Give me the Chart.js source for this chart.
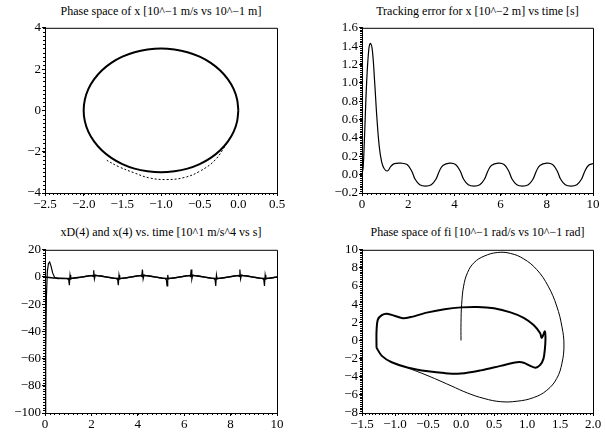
<!DOCTYPE html>
<html>
<head>
<meta charset="utf-8">
<script src="https://cdn.jsdelivr.net/npm/chart.js@4.4.1/dist/chart.umd.min.js"></script>
<style>
  body { margin: 0; background: #fff; }
  #page { position: relative; width: 605px; height: 432px; overflow: hidden; }
  canvas { position: absolute; }
  .title { position: absolute; font: 12px "Liberation Serif", "Times New Roman", serif; line-height: 14px;
           text-align: center; white-space: nowrap; color: #000; }
</style>
</head>
<body>
<div id="page">
  <div class="title" style="left:45px;top:4px;width:232px">Phase space of x [10^−1 m/s vs 10^−1 m]</div>
  <div class="title" style="left:362px;top:4px;width:231px">Tracking error for x [10^−2 m] vs time [s]</div>
  <div class="title" style="left:45px;top:225px;width:232px">xD(4) and x(4) vs. time [10^1 m/s^4 vs s]</div>
  <div class="title" style="left:362px;top:225px;width:231px">Phase space of fi [10^−1 rad/s vs 10^−1 rad]</div>
  <canvas id="c1" width="289" height="193" style="left:0;top:19px"></canvas>
  <canvas id="c2" width="305" height="193" style="left:300px;top:19px"></canvas>
  <canvas id="c3" width="289" height="191" style="left:0;top:241px"></canvas>
  <canvas id="c4" width="305" height="191" style="left:300px;top:241px"></canvas>
</div>
<script>
// phase space of x: limit cycle (position, velocity)
const xCyclePos = [0, -0.015, -0.06, -0.134, -0.234, -0.357, -0.5, -0.658, -0.826, -1, -1.174, -1.342, -1.5, -1.643, -1.766, -1.866, -1.94, -1.985, -2,
  -1.985, -1.94, -1.866, -1.766, -1.643, -1.5, -1.342, -1.174, -1, -0.826, -0.658, -0.5, -0.357, -0.234, -0.134, -0.06, -0.015, 0];
const xCycleVel = [0, 0.52, 1.03, 1.5, 1.93, 2.3, 2.6, 2.82, 2.95, 3, 2.95, 2.82, 2.6, 2.3, 1.93, 1.5, 1.03, 0.52, 0,
  -0.52, -1.03, -1.5, -1.93, -2.3, -2.6, -2.82, -2.95, -3, -2.95, -2.82, -2.6, -2.3, -1.93, -1.5, -1.03, -0.52, 0];
// initial transient (dashed)
const xStartPos = [-0.15, -0.3, -0.5, -0.7, -0.93, -1.15, -1.35, -1.55, -1.7];
const xStartVel = [-1.6, -2.4, -2.95, -3.25, -3.35, -3.27, -3.02, -2.72, -2.42];

// tracking error for x
const errTime = [0, 0.05, 0.1, 0.2, 0.3, 0.37, 0.45, 0.55, 0.65, 0.75, 0.85, 0.95, 1.1, 1.25, 1.4, 1.7, 1.95, 2.15, 2.3, 2.5, 2.75,
  3.0, 3.2, 3.35, 3.5, 3.8, 4.05, 4.25, 4.4, 4.6, 4.85, 5.1, 5.3, 5.45, 5.6, 5.9, 6.15, 6.35, 6.5, 6.7, 6.95,
  7.2, 7.4, 7.55, 7.7, 8.0, 8.25, 8.45, 8.6, 8.8, 9.05, 9.3, 9.5, 9.65, 9.8, 10];
const errValue = [0, 0.08, 0.35, 1.0, 1.38, 1.43, 1.35, 1.0, 0.6, 0.3, 0.14, 0.07, 0.04, 0.09, 0.12, 0.125, 0.11, 0.04, -0.05, -0.11, -0.125,
  -0.11, -0.05, 0.04, 0.10, 0.125, 0.11, 0.04, -0.05, -0.11, -0.125, -0.11, -0.05, 0.04, 0.10, 0.125, 0.11, 0.04, -0.05, -0.11, -0.125,
  -0.11, -0.05, 0.04, 0.10, 0.125, 0.11, 0.04, -0.05, -0.11, -0.125, -0.11, -0.05, 0.04, 0.10, 0.12];

// 4th derivative: desired (smooth) and actual (with switching spikes)
const xD4Time = [0, 0.5, 1.05, 1.6, 2.1, 2.65, 3.16, 3.71, 4.2, 4.75, 5.26, 5.81, 6.3, 6.85, 7.36, 7.91, 8.4, 8.95, 9.46, 10];
const xD4Value = [0, -0.8, -1.1, 0, 1.1, 0, -1.1, 0, 1.1, 0, -1.1, 0, 1.1, 0, -1.1, 0, 1.1, 0, -1.1, 0];
const x4Time = [0, 0.03, 0.06, 0.1, 0.15, 0.2, 0.26, 0.33, 0.42, 0.55, 0.75, 0.95,
  1.02, 1.05, 1.08, 1.11, 1.17, 1.3, 1.45, 1.6, 1.75, 1.9, 2.02,
  2.07, 2.1, 2.13, 2.17, 2.25, 2.4, 2.52, 2.65, 2.8, 2.95, 3.08,
  3.13, 3.16, 3.19, 3.22, 3.28, 3.41, 3.56, 3.71, 3.86, 4.01, 4.12,
  4.17, 4.2, 4.23, 4.27, 4.35, 4.5, 4.62, 4.75, 4.9, 5.05, 5.18,
  5.23, 5.26, 5.29, 5.32, 5.38, 5.51, 5.66, 5.81, 5.96, 6.11, 6.22,
  6.27, 6.3, 6.33, 6.37, 6.45, 6.6, 6.72, 6.85, 7.0, 7.15, 7.28,
  7.33, 7.36, 7.39, 7.42, 7.48, 7.61, 7.76, 7.91, 8.06, 8.21, 8.32,
  8.37, 8.4, 8.43, 8.47, 8.55, 8.7, 8.82, 8.95, 9.1, 9.25, 9.38,
  9.43, 9.46, 9.49, 9.52, 9.58, 9.71, 9.86, 10];
const x4Value = [-100, -55, -15, 4, 10, 11, 8, 3, -0.5, -1.2, -1.0, -1.1,
  -2, -6, 1.5, -1.5, -1.1, -0.85, -0.5, 0, 0.5, 0.9, 1.1,
  0.5, 5, -1.5, 1.5, 1.1, 0.85, 0.5, 0, -0.5, -0.9, -1.1,
  -2, -6, 1.5, -1.5, -1.1, -0.85, -0.5, 0, 0.5, 0.9, 1.1,
  0.5, 5.5, -1.5, 1.5, 1.1, 0.85, 0.5, 0, -0.5, -0.9, -1.1,
  -2, -6.5, 1.5, -1.5, -1.1, -0.85, -0.5, 0, 0.5, 0.9, 1.1,
  0.5, 5.5, -1.5, 1.5, 1.1, 0.85, 0.5, 0, -0.5, -0.9, -1.1,
  -2, -6.5, 1.5, -1.5, -1.1, -0.85, -0.5, 0, 0.5, 0.9, 1.1,
  0.5, 5.5, -1.5, 1.5, 1.1, 0.85, 0.5, 0, -0.5, -0.9, -1.1,
  -2, -6.5, 1.5, -1.5, -1.1, -0.85, -0.5, 0];

// phase space of fi: transient and limit cycle
const fiStartAngle = [0, 0, 0.01, 0.04, 0.1, 0.2, 0.35, 0.55, 0.75, 0.95, 1.15, 1.32, 1.45, 1.53, 1.56, 1.53, 1.45, 1.3, 1.1, 0.85,
  0.6, 0.35, 0.1, -0.15, -0.4, -0.6, -0.8];
const fiStartRate = [0, 2, 4, 6, 7.5, 8.6, 9.3, 9.7, 9.6, 9.0, 7.8, 6.0, 3.8, 1.5, -0.5, -2.5, -4.2, -5.5, -6.3, -6.7,
  -6.75, -6.4, -5.8, -5.0, -4.2, -3.6, -3.05];
const fiCycleAngle = [-1.28, -1.28, -1.26, -1.2, -1.12, -1.0, -0.88, -0.75, -0.5, -0.25, 0, 0.25, 0.5, 0.75, 0.95, 1.1, 1.2, 1.22, 1.24, 1.27,
  1.28, 1.27, 1.25, 1.2, 1.13, 1.05, 0.95, 0.85, 0.6, 0.3, 0, -0.25, -0.5, -0.8, -1.05, -1.2, -1.28];
const fiCycleRate = [-0.8, 1, 2.3, 2.8, 2.95, 2.7, 2.45, 2.6, 3.1, 3.45, 3.65, 3.7, 3.55, 3.1, 2.5, 1.7, 0.8, 0.3, 0.5, 1.0,
  0.2, -1.0, -2.0, -2.7, -3.0, -2.8, -2.45, -2.4, -2.8, -3.3, -3.65, -3.6, -3.4, -3.0, -2.4, -1.7, -0.8];

Chart.defaults.font.family = 'Liberation Serif';
const FONT = { family: 'Liberation Serif', size: 13 };
const MINUS = '\u2212';

function zip(xs, ys) {
  return xs.map((x, i) => ({ x: x, y: ys[i] }));
}

function fmt(digits) {
  return v => {
    const s = Math.abs(v) < 1e-9 ? (0).toFixed(digits) : Number(v).toFixed(digits);
    return s.replace('-', MINUS);
  };
}

// frame on top/right plus small minor ticks along bottom and left
const framePlugin = {
  id: 'frame',
  afterDraw(chart, args, opts) {
    const { ctx, chartArea: a, scales } = chart;
    ctx.save();
    ctx.strokeStyle = '#000';
    ctx.lineWidth = 1;
    ctx.beginPath();
    ctx.moveTo(a.left, a.top + 0.5);
    ctx.lineTo(a.right + 0.5, a.top + 0.5);
    ctx.lineTo(a.right + 0.5, a.bottom);
    ctx.stroke();
    ctx.beginPath();
    const xs = scales.x, ys = scales.y;
    for (let i = 0; ; i++) {
      const v = xs.min + i * opts.xMinor;
      if (v > xs.max + 1e-9) break;
      const p = Math.round(xs.getPixelForValue(v)) + 0.5;
      ctx.moveTo(p, a.bottom);
      ctx.lineTo(p, a.bottom + 2);
    }
    for (let i = 0; ; i++) {
      const v = ys.min + i * opts.yMinor;
      if (v > ys.max + 1e-9) break;
      const p = Math.round(ys.getPixelForValue(v)) + 0.5;
      ctx.moveTo(a.left - 2, p);
      ctx.lineTo(a.left, p);
    }
    ctx.stroke();
    ctx.restore();
  }
};

function axis(min, max, step, digits, fitKey, fitSize) {
  return {
    type: 'linear',
    min: min,
    max: max,
    grid: { drawOnChartArea: false, drawTicks: true, tickLength: 3, color: '#000' },
    border: { display: true, color: '#000', width: 1 },
    ticks: { stepSize: step, color: '#000', font: FONT, padding: 1, maxRotation: 0, autoSkip: false,
             callback: fmt(digits) },
    afterFit(scale) { scale[fitKey] = fitSize; }
  };
}

function line(data, width, extra) {
  return Object.assign({
    data: data,
    showLine: true,
    borderColor: '#000',
    backgroundColor: '#000',
    borderWidth: width,
    pointRadius: 0,
    fill: false
  }, extra || {});
}

function makeChart(id, datasets, xAxis, yAxis, minor) {
  return new Chart(document.getElementById(id), {
    type: 'scatter',
    data: { datasets: datasets },
    options: {
      responsive: false,
      animation: false,
      devicePixelRatio: 1,
      layout: { padding: { top: 8, right: 12, left: 0, bottom: 0 } },
      plugins: { legend: { display: false }, tooltip: { enabled: false }, frame: minor },
      scales: { x: xAxis, y: yAxis }
    },
    plugins: [framePlugin]
  });
}

makeChart('c1', [
    line(zip(xCyclePos, xCycleVel), 2, { tension: 0.3 }),
    line(zip(xStartPos, xStartVel), 1, { borderDash: [2, 2], tension: 0.4 })
  ],
  axis(-2.5, 0.5, 0.5, 1, 'height', 19),
  axis(-4, 4, 2, 0, 'width', 45),
  { xMinor: 0.05, yMinor: 0.2 });

makeChart('c2', [
    line(zip(errTime, errValue), 1.2, { tension: 0.4 })
  ],
  axis(0, 10, 2, 0, 'height', 19),
  axis(-0.2, 1.6, 0.2, 1, 'width', 62),
  { xMinor: 0.2, yMinor: 0.02 });

makeChart('c3', [
    line(zip(xD4Time, xD4Value), 1.5, { tension: 0.4 }),
    line(zip(x4Time, x4Value), 1.2)
  ],
  axis(0, 10, 2, 0, 'height', 19),
  axis(-100, 20, 20, 0, 'width', 45),
  { xMinor: 0.2, yMinor: 2 });

makeChart('c4', [
    line(zip(fiStartAngle, fiStartRate), 1, { tension: 0.4 }),
    line(zip(fiCycleAngle, fiCycleRate), 2, { tension: 0.3 })
  ],
  axis(-1.5, 2, 0.5, 1, 'height', 19),
  axis(-8, 10, 2, 0, 'width', 62),
  { xMinor: 0.05, yMinor: 0.2 });
</script>
</body>
</html>
